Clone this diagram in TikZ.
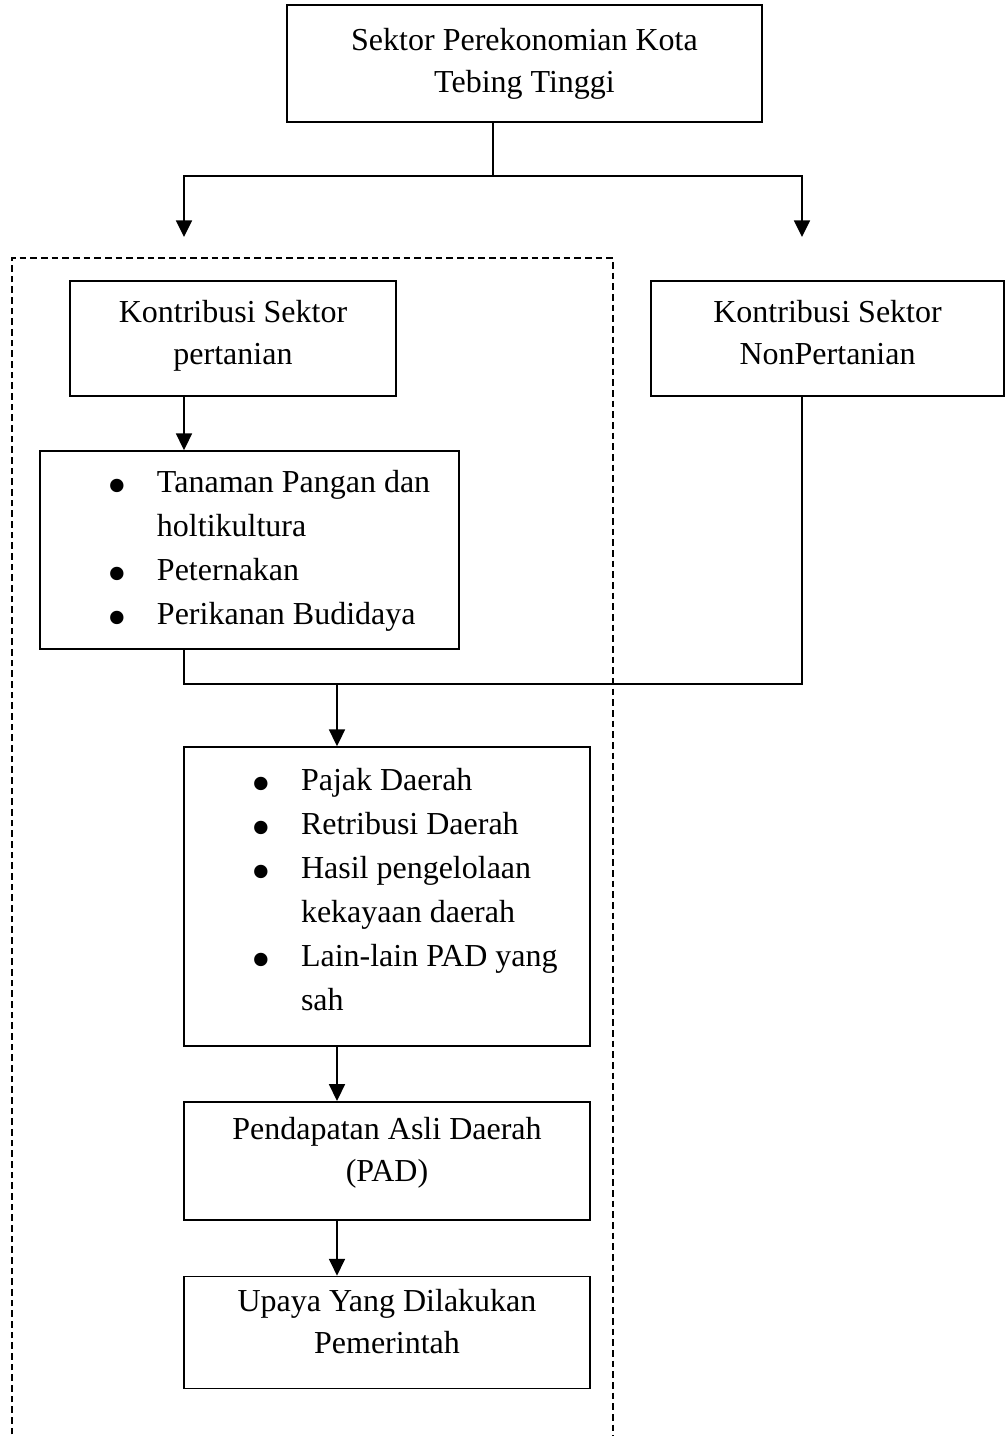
\documentclass[tikz,border=0pt]{standalone}
\usepackage{fontspec}
\setmainfont{Liberation Serif}
\usepackage{array}
\usetikzlibrary{arrows.meta,positioning}

\newcolumntype{B}{@{\hspace{50.4pt}}p{37.35pt}@{}}
\newcolumntype{T}[1]{>{\raggedright\arraybackslash}p{#1}@{}}
\newcommand{\bigdot}{\smash{\raisebox{-9pt}{\scalebox{1.75}{\textbullet}}}}
\newcommand{\lowerstrut}[1]{\rule[-#1]{0pt}{#1}}

\begin{document}
\begin{tikzpicture}[
    x=0.75pt, y=-0.75pt,
    every node/.style={font=\fontsize{24}{31.5}\selectfont},
    box/.style={
        draw,
        line width=1.3pt,
        align=center,
        inner sep=0pt
    },
    listbox/.style={box, font=\fontsize{24}{33}\selectfont},
    line/.style={line width=1.3pt},
    arrow/.style={-{Triangle[length=12.5pt,width=12pt]}, line width=1.3pt},
    frame/.style={dash pattern=on 5pt off 3pt, line width=1.2pt}
]
\useasboundingbox (0,0) rectangle (1005,1436);

% Dashed frame round the agricultural part (open at the bottom)
\draw[frame] (12,1445) -- (12,258) -- (613,258) -- (613,1445);

% Top
\node[box, minimum width=356.25pt, minimum height=87.75pt] (sektor) at (524.5,63.5)
    {Sektor Perekonomian Kota\\Tebing Tinggi};

% Two contributions
\node[box, minimum width=244.5pt, minimum height=86.25pt] (pert) at (233,338.5)
    {Kontribusi Sektor\\pertanian\lowerstrut{9.7pt}};
\node[box, minimum width=264.75pt, minimum height=86.25pt, right=190pt of pert] (nonpert)
    {Kontribusi Sektor\\NonPertanian\lowerstrut{9pt}};

% Agricultural subsectors
\node[listbox, minimum height=148.5pt] (subsek) at (249.5,550)
    {\begin{tabular}{BT{226.5pt}}
        \bigdot & Tanaman Pangan dan\\
                & holtikultura\\
        \bigdot & Peternakan\\
        \bigdot & Perikanan Budidaya
    \end{tabular}};

% PAD components
\node[listbox, minimum height=224.25pt] (komponen) at (387,896.5)
    {\begin{tabular}{BT{216.75pt}}
        \bigdot & Pajak Daerah\\
        \bigdot & Retribusi Daerah\\
        \bigdot & Hasil pengelolaan\\
                & kekayaan daerah\\
        \bigdot & Lain-lain PAD yang\\
                & sah\lowerstrut{16.7pt}
    \end{tabular}};

\node[box, minimum width=304.5pt, minimum height=88.5pt, below=40.5pt of komponen] (pad)
    {Pendapatan Asli Daerah\\(PAD)\lowerstrut{16.3pt}};
\node[box, minimum width=304.5pt, minimum height=84pt, below=41.25pt of pad] (upaya)
    {Upaya Yang Dilakukan\\Pemerintah\lowerstrut{16.5pt}};

% Split and join points
\coordinate (split) at (493,176);
\coordinate (arrL) at (184,237);
\coordinate (arrR) at (802,237);
\coordinate (join) at (337,684);

% Arrows
\draw[line] (sektor.south -| split) -- (split);
\draw[arrow] (split) -| (arrL);
\draw[arrow] (split) -| (arrR);

\draw[arrow] (pert.south -| arrL) -- (subsek.north -| arrL);

\draw[line] (subsek.south -| arrL) |- (join);
\draw[line] (nonpert.south -| arrR) |- (join);
\draw[arrow] (join) -- (komponen.north -| join);

\draw[arrow] (komponen.south -| join) -- (pad.north -| join);
\draw[arrow] (pad.south -| join) -- (upaya.north -| join);

\end{tikzpicture}
\end{document}
